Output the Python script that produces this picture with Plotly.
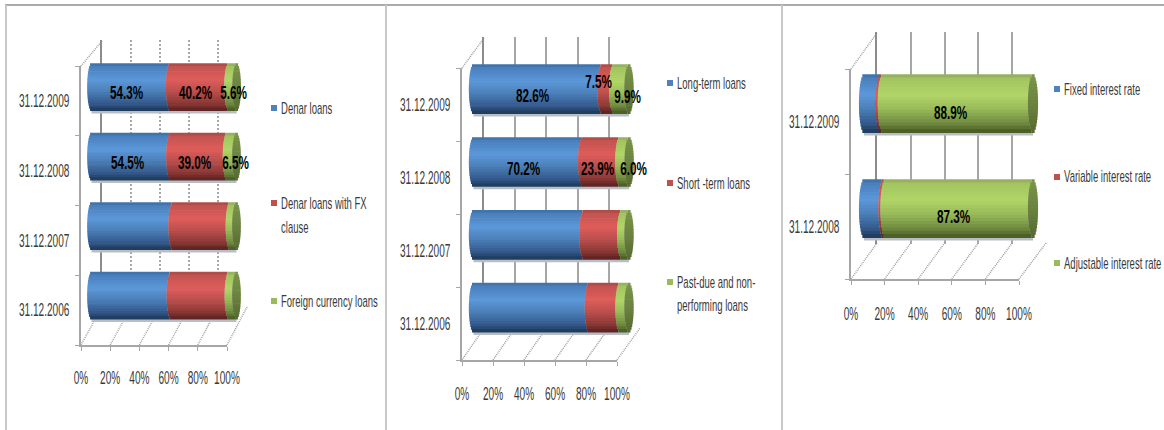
import plotly.graph_objects as go

W, H = 1164, 430
FONT = "Liberation Sans"

# ---------- data ----------
cats_a = ["31.12.2009", "31.12.2008", "31.12.2007", "31.12.2006"]
denar = [54.3, 54.5, 56.0, 54.8]
denar_fx = [40.2, 39.0, 39.5, 40.0]
foreign = [5.6, 6.5, 4.5, 5.2]
labels_a = [[True, True, True], [True, True, True], [False] * 3, [False] * 3]
names_a = [["Denar loans"], ["Denar loans with FX", "clause"], ["Foreign currency loans"]]

cats_b = ["31.12.2009", "31.12.2008", "31.12.2007", "31.12.2006"]
long_term = [82.6, 70.2, 71.0, 74.5]
short_term = [7.5, 23.9, 24.3, 19.7]
past_due = [9.9, 6.0, 4.7, 5.8]
labels_b = [[True, True, True], [True, True, True], [False] * 3, [False] * 3]
names_b = [["Long-term loans"], ["Short -term loans"], ["Past-due and non-", "performing loans"]]

cats_c = ["31.12.2009", "31.12.2008"]
fixed = [10.0, 11.5]
variable = [1.1, 1.2]
adjustable = [88.9, 87.3]
labels_c = [[False, False, True], [False, False, True]]
names_c = [["Fixed interest rate"], ["Variable interest rate"], ["Adjustable interest rate"]]

pct_ticks = [0, 20, 40, 60, 80, 100]
pct_text = ["0%", "20%", "40%", "60%", "80%", "100%"]

# ---------- styles ----------
GRAD = [
    [(0, "#3d6da3"), (.08, "#4a80bd"), (.35, "#5c98da"), (.6, "#4b7fb8"), (.85, "#34598c"), (1, "#1c3858")],
    [(0, "#a54a47"), (.08, "#c45451"), (.35, "#df5d5b"), (.6, "#b94f4d"), (.85, "#8b3835"), (1, "#562120")],
    [(0, "#8fa962"), (.08, "#a3c45f"), (.35, "#b1d569"), (.6, "#99ba59"), (.85, "#6f8a3f"), (1, "#45571f")],
]
CAP = [(0, "#7a9648"), (.5, "#6b8340"), (1, "#566a30")]
BANDS = 18
BULGE = 3.0


def hex2(c):
    return [int(c[i:i + 2], 16) for i in (1, 3, 5)]


def shade(stops, t):
    for (t0, c0), (t1, c1) in zip(stops, stops[1:]):
        if t <= t1:
            f = (t - t0) / (t1 - t0)
            a, b = hex2(c0), hex2(c1)
            return "rgb(%d,%d,%d)" % tuple(round(p + (q - p) * f) for p, q in zip(a, b))
    return stops[-1][1]


PANELS = [
    dict(cats=cats_a, series=[denar, denar_fx, foreign], labels=labels_a, names=names_a,
         front=(81, 227), front_y=(66, 345), back=(102, 247), back_y=(40, 308),
         bar=(91.5, 236.5), centers=(87.5, 296), bar_h=47,
         shift=[[(-4, 6), (-4, 6), (1, 6)], [(-4, 6), (-4, 6), (4, 6)]],
         leg_x=271, leg_y=[108, 203, 301], line_gap=24,
         griddash="2px,2px", gridcolor="#a8a8a8", gridw=2, label_dy=25),
    dict(cats=cats_b, series=[long_term, short_term, past_due], labels=labels_b, names=names_b,
         front=(462, 617), front_y=(68, 360), back=(484, 640), back_y=(37, 329),
         bar=(473.5, 629), centers=(89.5, 308), bar_h=49,
         shift=[[(-5, 6), (-9, -8), (6, 7)], [(-5, 7), (-4, 7), (9, 7)]],
         leg_x=667, leg_y=[83, 183, 282], line_gap=23,
         griddash="solid", gridcolor="#a6a6a6", gridw=2, label_dy=26),
    dict(cats=cats_c, series=[fixed, variable, adjustable], labels=labels_c, names=names_c,
         front=(851, 1019), front_y=(69, 279), back=(877, 1046), back_y=(32, 244),
         bar=(864, 1033), centers=(104, 209), bar_h=58,
         shift=[[None, None, (-7, 9)], [None, None, (-6, 8)]],
         leg_x=1054, leg_y=[89, 177, 263], line_gap=24,
         griddash="solid", gridcolor="#a6a6a6", gridw=2, label_dy=27),
]

AXIS = "#a6a6a6"
TEXT = "#3a3a3a"

fig = go.Figure()
shapes, annotations, layout_axes = [], [], {}


def px(x):
    return x / W


def py(y):
    return 1 - y / H


def line(x0, y0, x1, y1, color=AXIS, width=1.5, dash="solid"):
    shapes.append(dict(type="line", xref="paper", yref="paper", x0=px(x0), y0=py(y0), x1=px(x1), y1=py(y1),
                       line=dict(color=color, width=width, dash=dash), layer="below"))


# panel frames
line(5, 5, W, 5, "#8f8f8f", 1.5)
for fx in (6, 386, 782):
    line(fx, 5, fx, H, "#c8c8c8", 2)

axis_no = 1
for p in PANELS:
    cats = p["cats"]
    n = len(cats)
    ix, iy = axis_no, axis_no
    bx, by = axis_no + 1, axis_no + 1
    cx, cy = axis_no + 2, axis_no + 2
    axis_no += 3
    suffix = lambda k: "" if k == 1 else str(k)

    # front axes carry the tick labels
    fx0, fx1 = p["front"]
    fy0, fy1 = p["front_y"]
    layout_axes["xaxis" + suffix(ix)] = dict(
        domain=[px(fx0), px(fx1)], range=[0, 100], anchor="y" + suffix(iy), tickvals=pct_ticks, ticktext=pct_text,
        showgrid=False, zeroline=False, showline=True, linecolor=AXIS, linewidth=2, ticks="outside", ticklen=4,
        tickcolor=AXIS, tickwidth=1, ticklabelstandoff=p["label_dy"] - 14, tickangle=0,
        automargin=False, tickfont=dict(family=FONT, size=18, color=TEXT))
    layout_axes["yaxis" + suffix(iy)] = dict(
        domain=[py(fy1), py(fy0)], anchor="x" + suffix(ix), type="category", categoryorder="array",
        categoryarray=cats[::-1], range=[-0.5, n - 0.5], tickson="boundaries", showgrid=False, zeroline=False,
        showline=True, linecolor=AXIS, linewidth=2, ticks="outside", ticklen=4, tickcolor=AXIS,
        ticklabelstandoff=6, automargin=False, tickfont=dict(family=FONT, size=18, color=TEXT))
    fig.add_trace(go.Scatter(x=[None] * n, y=cats, xaxis="x" + suffix(ix), yaxis="y" + suffix(iy),
                             mode="markers", hoverinfo="skip", showlegend=False))

    # back wall with gridlines
    bx0, bx1 = p["back"]
    by0, by1 = p["back_y"]
    layout_axes["xaxis" + suffix(bx)] = dict(
        domain=[px(bx0), px(bx1)], range=[0, 100], anchor="y" + suffix(by), tickvals=pct_ticks, showticklabels=False,
        ticks="", showgrid=True, gridcolor=p["gridcolor"], gridwidth=p["gridw"], griddash=p["griddash"],
        zeroline=False, showline=False, automargin=False)
    layout_axes["yaxis" + suffix(by)] = dict(
        domain=[py(by1), py(by0)], anchor="x" + suffix(bx), range=[0, 1], showticklabels=False, ticks="",
        showgrid=False, zeroline=False, showline=True, linecolor="#8c8c8c", linewidth=2, automargin=False)
    fig.add_trace(go.Scatter(x=[None], y=[None], xaxis="x" + suffix(bx), yaxis="y" + suffix(by),
                             mode="markers", hoverinfo="skip", showlegend=False))

    # floor and side-wall diagonals
    step_f = (fx1 - fx0) / 5
    step_b = (bx1 - bx0) / 5
    for k in range(6):
        line(fx0 + k * step_f, fy1, bx0 + k * step_b, by1 - 1, "#a0a0a0", 1.5, "1px,1px")
    line(fx0, fy0, bx0, by0 + 1, "#a0a0a0", 1.5, "1px,1px")

    # cylinders
    b0, b1 = p["bar"]
    c0, c1 = p["centers"]
    pitch = (c1 - c0) / (n - 1) if n > 1 else 100
    unit = (b1 - b0) / 100
    pad = 6
    layout_axes["xaxis" + suffix(cx)] = dict(
        domain=[px(b0 - pad * unit), px(b1 + pad * unit)], range=[-pad, 100 + pad], anchor="y" + suffix(cy),
        visible=False, automargin=False)
    layout_axes["yaxis" + suffix(cy)] = dict(
        domain=[py(c1 + pitch / 2), py(c0 - pitch / 2)], anchor="x" + suffix(cx), type="category",
        categoryorder="array", categoryarray=cats[::-1], range=[-0.5, n - 0.5], visible=False, automargin=False)
    h = p["bar_h"] / pitch
    totals = [sum(s[i] for s in p["series"]) for i in range(n)]

    # soft shadow under each cylinder
    fig.add_trace(go.Bar(y=cats, x=totals, base=[0] * n, orientation="h", width=h, offset=-h / 2 - 2.5 / pitch,
                         marker=dict(color="#b9bec4", line=dict(width=0)), xaxis="x" + suffix(cx),
                         yaxis="y" + suffix(cy), hoverinfo="skip", showlegend=False))
    for b in range(BANDS):
        t = (b + .5) / BANDS
        s = (1 - (2 * t - 1) ** 2) ** .5
        ys, xs, bases, colors = [], [], [], []
        for i in range(n):
            cum = 0
            for j, ser in enumerate(p["series"]):
                ys.append(cats[i])
                xs.append(ser[i])
                bases.append(cum - BULGE * s)
                colors.append(shade(GRAD[j], t))
                cum += ser[i]
            ys.append(cats[i])
            xs.append(2 * BULGE * s)
            bases.append(cum - BULGE * s)
            colors.append(shade(CAP, t))
        band = h / BANDS
        fig.add_trace(go.Bar(y=ys, x=xs, base=bases, orientation="h", width=band * 1.25,
                             offset=h / 2 - (b + 1) * band, marker=dict(color=colors, line=dict(width=0)),
                             xaxis="x" + suffix(cx), yaxis="y" + suffix(cy), hoverinfo="skip", showlegend=False))

    # data labels
    for i in range(min(n, len(p["shift"]))):
        cum = 0
        for j, ser in enumerate(p["series"]):
            v = ser[i]
            if p["labels"][i][j]:
                dx, dy = p["shift"][i][j]
                annotations.append(dict(x=cum + v / 2, y=cats[i], xref="x" + suffix(cx), yref="y" + suffix(cy),
                                        text="%.1f%%" % v, showarrow=False, xshift=dx, yshift=-dy,
                                        font=dict(family=FONT, size=18, color="#000000", weight="bold")))
            cum += v

    # legend
    lx = p["leg_x"]
    for j, (lines, ly) in enumerate(zip(p["names"], p["leg_y"])):
        shapes.append(dict(type="rect", xref="paper", yref="paper", x0=px(lx), x1=px(lx + 6), y0=py(ly - 3), y1=py(ly + 3),
                           fillcolor=["#4f81bd", "#c0504d", "#9bbb59"][j], line=dict(width=0), layer="above"))
        for q, txt in enumerate(lines):
            annotations.append(dict(x=px(lx + 8), y=py(ly + q * p["line_gap"]), xref="paper", yref="paper",
                                    text=txt, showarrow=False, xanchor="left", yanchor="middle", align="left",
                                    font=dict(family=FONT, size=17, color=TEXT)))

fig.update_layout(template="none", width=W, height=H, margin=dict(l=0, r=0, t=0, b=0, autoexpand=False),
                  paper_bgcolor="white", plot_bgcolor="rgba(0,0,0,0)", barmode="overlay", showlegend=False,
                  shapes=shapes, annotations=annotations, **layout_axes)

# The reference's type is strongly condensed: narrow every label's glyphs with SVG's own text fitting.
CONDENSE = """
document.body.style.margin = '0';
document.querySelectorAll('.main-svg text').forEach(function (t) {
  var bold = String(t.style.fontWeight) === '700' || t.style.fontWeight === 'bold';
  var len = t.getComputedTextLength();
  t.setAttribute('lengthAdjust', 'spacingAndGlyphs');
  t.setAttribute('textLength', len * (bold ? 0.65 : 0.56));
});
"""
fig.write_html("out.html", post_script=CONDENSE, config={"displayModeBar": False})
